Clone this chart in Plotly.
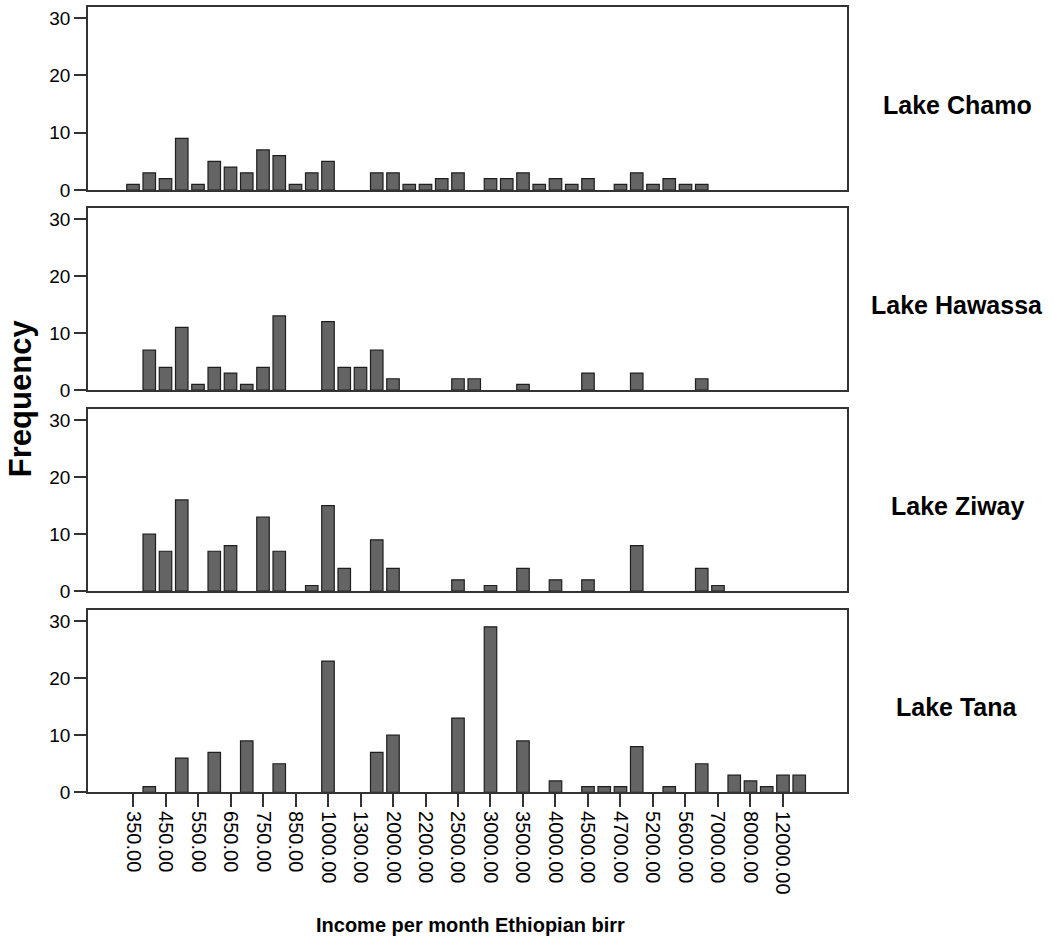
import plotly.graph_objects as go
from plotly.subplots import make_subplots

# Income categories (Ethiopian birr per month); every other category is labelled on the axis
categories = ["350.00", "400.00", "450.00", "500.00", "550.00", "600.00", "650.00", "700.00",
              "750.00", "800.00", "850.00", "900.00", "1000.00", "1200.00", "1300.00", "1500.00",
              "2000.00", "2100.00", "2200.00", "2400.00", "2500.00", "2800.00", "3000.00", "3200.00",
              "3500.00", "3800.00", "4000.00", "4200.00", "4500.00", "4600.00", "4700.00", "5000.00",
              "5200.00", "5500.00", "5600.00", "6000.00", "7000.00", "7500.00", "8000.00", "10000.00",
              "12000.00", "15000.00"]
tick_labels = categories[0::2]

lakes = ["Lake Chamo", "Lake Hawassa", "Lake Ziway", "Lake Tana"]
N = None
chamo = [1, 3, 2, 9, 1, 5, 4, 3, 7, 6, 1, 3, 5, N, N, 3, 3, 1, 1, 2, 3, N, 2, 2, 3, 1, 2, 1, 2, N,
         1, 3, 1, 2, 1, 1, N, N, N, N, N, N]
hawassa = [N, 7, 4, 11, 1, 4, 3, 1, 4, 13, N, N, 12, 4, 4, 7, 2, N, N, N, 2, 2, N, N, 1, N, N, N, 3, N,
           N, 3, N, N, N, 2, N, N, N, N, N, N]
ziway = [N, 10, 7, 16, N, 7, 8, N, 13, 7, N, 1, 15, 4, N, 9, 4, N, N, N, 2, N, 1, N, 4, N, 2, N, 2, N,
         N, 8, N, N, N, 4, 1, N, N, N, N, N]
tana = [N, 1, N, 6, N, 7, N, 9, N, 5, N, N, 23, N, N, 7, 10, N, N, N, 13, N, 29, N, 9, N, 2, N, 1, 1,
        1, 8, N, 1, N, 5, N, 3, 2, 1, 3, 3]
series = [chamo, hawassa, ziway, tana]

W, H = 1054, 946
K = 0.988  # vertical compensation observed in the rendered capture
x_left, x_right = 88, 847
panels_px = [(7, 190), (208, 390), (409, 591), (610, 792)]


def ypaper(t):
    return 1 - (t / K) / H


fig = make_subplots(rows=4, cols=1)

FONT = "Arial, Liberation Sans, sans-serif"
LINE = "#333333"

for i, vals in enumerate(series):
    fig.add_trace(go.Bar(x=categories, y=vals, marker=dict(color="#646464",
                         line=dict(color="#1e1e1e", width=1.2)), showlegend=False),
                  row=i + 1, col=1)

for i, (top, bot) in enumerate(panels_px):
    n = i + 1
    xa = "xaxis" if n == 1 else f"xaxis{n}"
    ya = "yaxis" if n == 1 else f"yaxis{n}"
    last = (n == 4)
    fig.layout[xa].update(
        domain=[x_left / W, x_right / W], type="category",
        categoryorder="array", categoryarray=categories,
        range=[-2.77, 43.94], showline=True, mirror=True, linecolor=LINE, linewidth=1.6,
        showgrid=False, zeroline=False,
        ticks="outside" if last else "", ticklen=13, tickwidth=1.5, tickcolor=LINE,
        showticklabels=last, tickvals=tick_labels, ticktext=tick_labels, tickangle=90,
        tickfont=dict(family=FONT, size=20, color="black"))
    fig.layout[ya].update(
        domain=[ypaper(bot), ypaper(top)], range=[0, 31.9],
        tickvals=[0, 10, 20, 30], ticks="outside", ticklen=12, tickwidth=1.5, tickcolor=LINE,
        showline=True, mirror=True, linecolor=LINE, linewidth=1.6,
        showgrid=False, zeroline=False,
        tickfont=dict(family=FONT, size=19, color="black"))
    fig.add_annotation(text=f"<b>{lakes[i]}</b>", xref="paper", yref=f"y{'' if n == 1 else n} domain",
                       x=957 / W, y=0.467, xanchor="center", yanchor="middle", showarrow=False,
                       font=dict(family=FONT, size=25, color="black"))

fig.add_annotation(text="<b>Frequency</b>", xref="paper", yref="paper", x=20 / W, y=ypaper(398),
                   textangle=-90, showarrow=False, xanchor="center", yanchor="middle",
                   font=dict(family=FONT, size=31, color="black"))
fig.add_annotation(text="<b>Income per month Ethiopian birr</b>", xref="paper", yref="paper",
                   x=470 / W, y=ypaper(925), showarrow=False, xanchor="center", yanchor="middle",
                   font=dict(family=FONT, size=20, color="black"))

fig.update_layout(width=W, height=H, autosize=False, margin=dict(l=0, r=0, t=0, b=0),
                  paper_bgcolor="white", plot_bgcolor="white", bargap=0.23,
                  font=dict(family=FONT, color="black"))

css_js = (
    "document.documentElement.style.margin='0px';"
    "document.documentElement.style.height='946px';"
    "document.documentElement.style.overflow='hidden';"
    "document.body.style.margin='0px';"
    "document.body.style.height='946px';"
    "document.body.style.overflow='hidden';"
)
fig.write_html("out.html", post_script=css_js, config={"displayModeBar": False})
